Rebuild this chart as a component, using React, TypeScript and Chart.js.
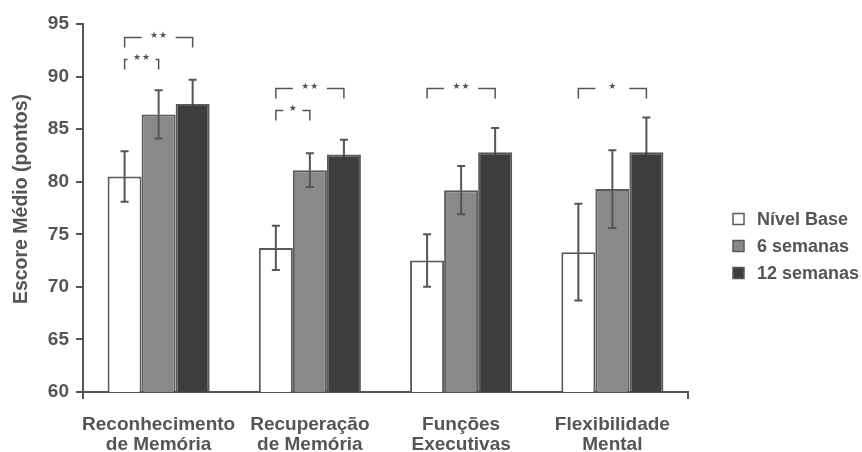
import React, { useEffect, useRef } from "react";
import { Chart, registerables } from "chart.js";

Chart.register(...registerables);

// ---- data ----
const categories: string[][] = [
  ["Reconhecimento", "de Memória"],
  ["Recuperação", "de Memória"],
  ["Funções", "Executivas"],
  ["Flexibilidade", "Mental"],
];
const seriesNames = ["Nível Base", "6 semanas", "12 semanas"];
const baseline = [80.5, 73.7, 72.5, 73.3];
const week6 = [86.4, 81.1, 79.2, 79.3];
const week12 = [87.4, 82.6, 82.8, 82.8];
const baselineErr = [2.4, 2.1, 2.5, 4.6];
const week6Err = [2.3, 1.6, 2.3, 3.7];
const week12Err = [2.3, 1.4, 2.3, 3.3];
const yMin = 60;
const yMax = 95;
const yStep = 5;

// significance brackets
const bracketGroup = [0, 0, 1, 1, 2, 3];
const bracketFrom = [0, 0, 0, 0, 0, 0];
const bracketTo = [2, 1, 2, 1, 2, 2];
const bracketLevel = [93.8, 91.7, 88.9, 86.8, 88.9, 88.9];
const bracketLabel = ["**", "**", "**", "*", "**", "*"];

// ---- styles ----
const FONT = "'Liberation Sans', Arial, Helvetica, sans-serif";
const TEXT = "#555555";
const AXIS = "#555555";
const fills = ["#ffffff", "#898989", "#3d3d3d"];
const lowerWhisker = ["#555555", "#555555", "#3d3d3d"];
const BORDER = "#5a5a5a";

const overlay = {
  id: "overlay",
  afterDatasetsDraw(chart: any) {
    const ctx = chart.ctx;
    const y = chart.scales.y;
    const errs = [baselineErr, week6Err, week12Err];
    ctx.save();
    ctx.lineWidth = 2;
    chart.data.datasets.forEach((ds: any, i: number) => {
      const meta = chart.getDatasetMeta(i);
      meta.data.forEach((bar: any, g: number) => {
        const v = ds.data[g];
        const e = errs[i][g];
        const x = bar.x;
        const yv = y.getPixelForValue(v);
        const yt = y.getPixelForValue(v + e);
        const yb = y.getPixelForValue(v - e);
        ctx.strokeStyle = AXIS;
        ctx.beginPath();
        ctx.moveTo(x, yv);
        ctx.lineTo(x, yt);
        ctx.moveTo(x - 4, yt);
        ctx.lineTo(x + 4, yt);
        ctx.stroke();
        ctx.strokeStyle = lowerWhisker[i];
        ctx.beginPath();
        ctx.moveTo(x, yv);
        ctx.lineTo(x, yb);
        ctx.moveTo(x - 4, yb);
        ctx.lineTo(x + 4, yb);
        ctx.stroke();
      });
    });
    ctx.restore();
  },
  afterDraw(chart: any) {
    const ctx = chart.ctx;
    const y = chart.scales.y;
    ctx.save();
    // brackets
    ctx.strokeStyle = AXIS;
    ctx.lineWidth = 1.5;
    bracketGroup.forEach((g, k) => {
      const x1 = chart.getDatasetMeta(bracketFrom[k]).data[g].x;
      const x2 = chart.getDatasetMeta(bracketTo[k]).data[g].x;
      const yl = Math.round(y.getPixelForValue(bracketLevel[k])) + 0.5;
      const drop = 10;
      const n = bracketLabel[k].length;
      const span = x2 - x1;
      const gap = Math.max(span * 0.5, n * 9 + 10);
      const mid = (x1 + x2) / 2;
      ctx.beginPath();
      ctx.moveTo(x1, yl + drop);
      ctx.lineTo(x1, yl);
      ctx.lineTo(mid - gap / 2, yl);
      ctx.moveTo(mid + gap / 2, yl);
      ctx.lineTo(x2, yl);
      ctx.lineTo(x2, yl + drop);
      ctx.stroke();
      ctx.fillStyle = TEXT;
      ctx.font = `9px 'DejaVu Sans', sans-serif`;
      ctx.textAlign = "center";
      ctx.textBaseline = "middle";
      for (let s = 0; s < n; s++) {
        const sx = mid + (s - (n - 1) / 2) * 9;
        ctx.fillText("★", sx, yl - 2);
      }
    });
    // y title
    ctx.save();
    ctx.translate(22, 199);
    ctx.rotate(-Math.PI / 2);
    ctx.font = `bold 19.5px ${FONT}`;
    ctx.fillStyle = TEXT;
    ctx.textAlign = "center";
    ctx.textBaseline = "middle";
    ctx.fillText("Escore Médio (pontos)", 0, 0);
    ctx.restore();
    // legend
    const lx = 733;
    const rowY = [219, 246, 273];
    chart.data.datasets.forEach((ds: any, i: number) => {
      const cy = rowY[i];
      ctx.fillStyle = ds.backgroundColor;
      ctx.fillRect(lx, cy - 5.5, 11, 11);
      ctx.strokeStyle = BORDER;
      ctx.lineWidth = 1.5;
      ctx.strokeRect(lx, cy - 5.5, 11, 11);
      ctx.fillStyle = TEXT;
      ctx.font = `bold 18px ${FONT}`;
      ctx.textAlign = "left";
      ctx.textBaseline = "middle";
      ctx.fillText(ds.label, lx + 24, cy + 1);
    });
    ctx.restore();
  },
};

export default function App() {
  const ref = useRef<HTMLCanvasElement | null>(null);
  useEffect(() => {
    if (!ref.current) return;
    const series = [baseline, week6, week12];
    const chart = new Chart(ref.current, {
      type: "bar",
      data: {
        labels: categories,
        datasets: series.map((d, i) => ({
          label: seriesNames[i],
          data: d,
          backgroundColor: fills[i],
          borderColor: BORDER,
          borderWidth: 2,
          barPercentage: 1,
          categoryPercentage: 0.675,
        })),
      },
      options: {
        animation: false,
        responsive: true,
        maintainAspectRatio: false,
        layout: { padding: { left: 0, right: 174, top: 24, bottom: 0 } },
        plugins: { legend: { display: false }, tooltip: { enabled: false } },
        scales: {
          x: {
            grid: {
              offset: true,
              drawOnChartArea: false,
              drawTicks: true,
              tickLength: 7,
              lineWidth: 2,
              color: (c: any) => (c.type === "scale" || c.index === 0 ? AXIS : "rgba(0,0,0,0)"),
            },
            border: { color: AXIS, width: 2 },
            ticks: {
              color: TEXT,
              font: { family: FONT, size: 19, weight: "bold", lineHeight: 1.03 },
              padding: 16,
              maxRotation: 0,
              autoSkip: false,
            },
            afterFit: (s: any) => {
              s.height = 60;
            },
          },
          y: {
            min: yMin,
            max: yMax,
            grid: { drawOnChartArea: false, drawTicks: true, tickLength: 7, lineWidth: 2, color: AXIS },
            border: { color: AXIS, width: 2 },
            ticks: {
              stepSize: yStep,
              color: TEXT,
              font: { family: FONT, size: 19, weight: "bold" },
              padding: 7,
            },
            afterFit: (s: any) => {
              s.width = 83;
            },
          },
        },
      },
      plugins: [overlay],
    });
    return () => chart.destroy();
  }, []);
  return (
    <div style={{ position: "fixed", left: 0, top: 0, width: 862, height: 452, background: "#fff" }}>
      <canvas ref={ref} />
    </div>
  );
}
